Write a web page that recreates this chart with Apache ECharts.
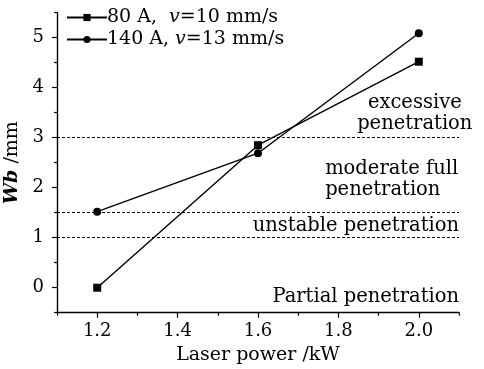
<!DOCTYPE html>
<html><head><meta charset="utf-8">
<script src="https://cdn.jsdelivr.net/npm/echarts@6/dist/echarts.min.js"></script>
<style>html,body{margin:0;padding:0;background:#fff}#c{width:484px;height:369px}</style>
</head><body><div id="c"></div>
<script>
// ---- data ----
const power = [1.2, 1.6, 2.0];
const wb80 = [0, 2.85, 4.52];
const wb140 = [1.52, 2.69, 5.09];
const seriesNames = ['80 A, v=10 mm/s', '140 A, v=13 mm/s'];
const legendParts = [['80 A,  ', 'v', '=10 mm/s'], ['140 A, ', 'v', '=13 mm/s']];
const thresholds = [3, 1.5, 1];
const xTicks = [1.2, 1.4, 1.6, 1.8, 2.0];
const xMinorTicks = [1.1, 1.3, 1.5, 1.7, 1.9, 2.1];
const yTicks = [0, 1, 2, 3, 4, 5];
const yMinorTicks = [-0.5, 0.5, 1.5, 2.5, 3.5, 4.5, 5.5];
const regionLabels = ['excessive\npenetration', 'moderate full\npenetration', 'unstable penetration', 'Partial penetration'];

// ---- layout (annotation anchors in data units) ----
const regionAnchors = [[1.99, 3.48], [1.767, 2.17], [2.1, 1.23], [2.1, -0.19]];
const regionAlign = ['center', 'left', 'right', 'right'];

const FONT = 'DejaVu Serif';
const FS = 19;
const AFS = 19.5;
const TFS = 18;
const chart = echarts.init(document.getElementById('c'));

function xAxisDef(vals, len, labels, line) {
  return {
    type: 'value', min: 1.1, max: 2.1, position: 'bottom', offset: 0,
    axisLine: {show: line, onZero: false, lineStyle: {color: '#000', width: 1.4}},
    axisTick: {show: true, customValues: vals, length: len, inside: false, lineStyle: {color: '#000', width: 1.2}},
    axisLabel: labels ? {show: true, customValues: vals, margin: 10, color: '#000', fontFamily: FONT, fontSize: TFS,
      formatter: v => Number(v).toFixed(1)} : {show: false},
    splitLine: {show: false}
  };
}
function yAxisDef(vals, len, labels, line) {
  return {
    type: 'value', min: -0.5, max: 5.5, position: 'left', offset: 0,
    axisLine: {show: line, onZero: false, lineStyle: {color: '#000', width: 1.4}},
    axisTick: {show: true, customValues: vals, length: len, inside: false, lineStyle: {color: '#000', width: 1.2}},
    axisLabel: labels ? {show: true, customValues: vals, margin: 13, color: '#000', fontFamily: FONT, fontSize: TFS} : {show: false},
    splitLine: {show: false}
  };
}

const xMain = xAxisDef(xTicks, 5, true, true);
xMain.name = 'Laser power /kW';
xMain.nameLocation = 'middle';
xMain.nameGap = 32;
xMain.nameTextStyle = {color: '#000', fontFamily: FONT, fontSize: FS};
const yMain = yAxisDef(yTicks, 5, true, true);
yMain.name = '{b|Wb} /mm';
yMain.nameLocation = 'middle';
yMain.nameGap = 28;
yMain.nameRotate = 90;
yMain.nameTextStyle = {color: '#000', fontFamily: FONT, fontSize: FS,
  rich: {b: {fontStyle: 'italic', fontWeight: 'bold', fontFamily: FONT, fontSize: FS, color: '#000'}}};

const option = {
  animation: false,
  backgroundColor: '#fff',
  grid: {left: 57, right: 25, top: 12.7, bottom: 56.3, containLabel: false, outerBoundsMode: 'none'},
  xAxis: [xMain, xAxisDef(xMinorTicks, 3, false, false)],
  yAxis: [yMain, yAxisDef(yMinorTicks, 3, false, false)],
  legend: {
    orient: 'vertical', left: 61, top: 3, itemWidth: 40, itemHeight: 9, itemGap: 3,
    data: seriesNames,
    formatter: name => {
      const p = legendParts[seriesNames.indexOf(name)];
      return '{n|' + p[0] + '}{i|' + p[1] + '}{n|' + p[2] + '}';
    },
    textStyle: {
      color: '#000', fontFamily: FONT, fontSize: FS, padding: [0, 0, 0, -5],
      rich: {
        n: {fontFamily: FONT, fontSize: FS, color: '#000', lineHeight: 20},
        i: {fontFamily: FONT, fontSize: FS, color: '#000', fontStyle: 'italic', lineHeight: 20}
      }
    }
  },
  series: [
    {
      name: seriesNames[0], type: 'line', xAxisIndex: 0, yAxisIndex: 0,
      data: power.map((x, i) => [x, wb80[i]]),
      symbol: 'rect', symbolSize: 8, showSymbol: true,
      lineStyle: {color: '#000', width: 1.4}, itemStyle: {color: '#000'},
      markLine: {
        silent: true, symbol: 'none', label: {show: false},
        lineStyle: {color: '#000', type: [3, 2], width: 1.2},
        data: thresholds.map(v => ({yAxis: v}))
      }
    },
    {
      name: seriesNames[1], type: 'line', xAxisIndex: 0, yAxisIndex: 0,
      data: power.map((x, i) => [x, wb140[i]]),
      symbol: 'circle', symbolSize: 8, showSymbol: true,
      lineStyle: {color: '#000', width: 1.4}, itemStyle: {color: '#000'}
    }
  ]
};
chart.setOption(option);

const graphics = regionLabels.map((t, i) => {
  const p = chart.convertToPixel({gridIndex: 0}, regionAnchors[i]);
  return {
    type: 'text', x: p[0], y: p[1], silent: true,
    style: {text: t, fill: '#000', font: AFS + 'px "' + FONT + '"', align: regionAlign[i],
      verticalAlign: 'middle', lineHeight: 21}
  };
});
chart.setOption({graphic: graphics});
</script>
</body></html>
